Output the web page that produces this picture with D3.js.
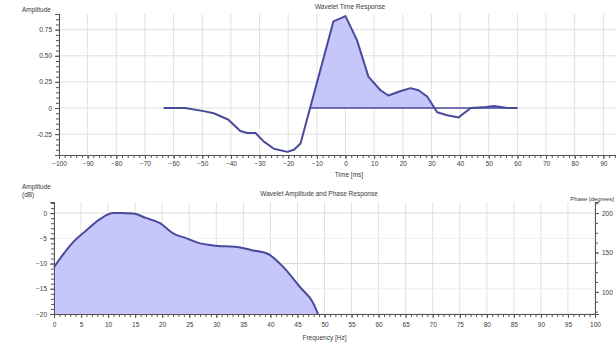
<!DOCTYPE html>
<html>
<head>
<meta charset="utf-8">
<script src="https://cdn.jsdelivr.net/npm/d3@7"></script>
<style>
  html, body { margin: 0; padding: 0; background: #fff; }
  svg { display: block; font-family: "Liberation Sans", Arial, sans-serif; }
  text { fill: #3a3a3a; }
</style>
</head>
<body>
<svg id="chart" width="616" height="346"></svg>
<script>
// Wavelet time response: time (ms) vs amplitude
const timeMs  = [-63.5, -56, -49.5, -46, -41, -36.7, -34.3, -31.4, -28.6, -25, -20.3, -18, -15.7,
                 -4.2, 0, 4, 8, 12.2, 15, 19, 22.7, 25.5, 28.5, 32, 35.5, 39.5, 43.7, 49, 51.8, 56.5, 60];
const timeAmp = [0, 0, -0.03, -0.05, -0.11, -0.22, -0.24, -0.24, -0.32, -0.39, -0.42, -0.40, -0.34,
                 0.83, 0.88, 0.65, 0.30, 0.17, 0.12, 0.16, 0.19, 0.17, 0.11, -0.04, -0.07, -0.09, 0, 0.01, 0.02, 0, 0];

// Wavelet amplitude spectrum: frequency (Hz) vs amplitude (dB)
const freqHz = [0, 3.5, 6, 8.5, 11, 12.2, 14.6, 17.1, 19.6, 22, 24.5, 27, 29.4, 34.4, 36.8, 39.4, 42.4, 45.5, 47.9, 48.8];
const ampDb  = [-10.7, -5.8, -3.4, -1.2, 0, 0, -0.1, -1, -2, -4, -5, -6, -6.4, -6.8, -7.4, -8, -10.7, -14.7, -17.8, -20];

// Tick labels
const timeTicks  = [-100, -90, -80, -70, -60, -50, -40, -30, -20, -10, 0, 10, 20, 30, 40, 50, 60, 70, 80, 90];
const ampTicks   = [-0.25, 0, 0.25, 0.5, 0.75];
const ampTickLabels = ["-0.25", "0", "0.25", "0.50", "0.75"];
const freqTicks  = d3.range(0, 101, 5);
const dbTicks    = [-20, -15, -10, -5, 0];
const phaseTicks = [100, 150, 200];

const LINE = "#4a4a9c";
const FILL = "#c6c6fb";
const AXIS = "#555";
const GRID = "#e0e0e0";

const svg = d3.select("#chart");

// ---------- Upper panel: time response ----------
const xT = d3.scaleLinear().domain([-100, 100]).range([59, 632]);
const yT = d3.scaleLinear().domain([-0.45, 0.9]).range([155, 14]);

const timePanel = svg.append("g");

// grid
timePanel.append("g").selectAll("line").data(timeTicks).join("line")
  .attr("x1", d => xT(d)).attr("x2", d => xT(d))
  .attr("y1", yT.range()[1]).attr("y2", yT.range()[0])
  .attr("stroke", GRID).attr("stroke-width", 1);
timePanel.append("g").selectAll("line").data(ampTicks).join("line")
  .attr("x1", xT.range()[0]).attr("x2", xT.range()[1])
  .attr("y1", d => yT(d)).attr("y2", d => yT(d))
  .attr("stroke", GRID).attr("stroke-width", 1);

// positive lobes filled between curve and zero, clipped above the baseline
const tPts = timeMs.map((t, i) => [t, timeAmp[i]]);
timePanel.append("clipPath").attr("id", "clipPos")
  .append("rect")
  .attr("x", xT.range()[0]).attr("y", yT.range()[1])
  .attr("width", xT.range()[1] - xT.range()[0]).attr("height", yT(0) - yT.range()[1]);

// first zero crossing going into the main lobe
let startT = timeMs[0];
for (let i = 1; i < tPts.length; i++) {
  if (tPts[i - 1][1] < 0 && tPts[i][1] >= 0) {
    const [t0, v0] = tPts[i - 1], [t1, v1] = tPts[i];
    startT = t0 + (0 - v0) * (t1 - t0) / (v1 - v0);
    break;
  }
}
const lobePts = tPts.filter(p => p[0] >= startT - 5);

timePanel.append("path")
  .datum(lobePts)
  .attr("clip-path", "url(#clipPos)")
  .attr("d", d3.area().x(d => xT(d[0])).y0(yT(0)).y1(d => yT(d[1])))
  .attr("fill", FILL);

timePanel.append("line")
  .attr("x1", xT(startT)).attr("x2", xT(timeMs[timeMs.length - 1]))
  .attr("y1", yT(0)).attr("y2", yT(0))
  .attr("stroke", LINE).attr("stroke-width", 1.6);

timePanel.append("path")
  .datum(tPts)
  .attr("d", d3.line().x(d => xT(d[0])).y(d => yT(d[1])))
  .attr("fill", "none").attr("stroke", LINE).attr("stroke-width", 2)
  .attr("stroke-linejoin", "round");

// axes
const xAxisT = timePanel.append("g").attr("transform", `translate(0,${yT.range()[0]})`);
xAxisT.call(d3.axisBottom(xT).tickValues(d3.range(-100, 101, 2)).tickSize(3).tickFormat(""));
xAxisT.call(g => g.append("g").call(d3.axisBottom(xT).tickValues(timeTicks).tickSize(4).tickFormat(d3.format("d"))));
const yAxisT = timePanel.append("g").attr("transform", `translate(${xT.range()[0]},0)`);
yAxisT.call(d3.axisLeft(yT).tickValues(d3.range(-0.45, 0.901, 0.05)).tickSize(3).tickFormat(""));
yAxisT.call(g => g.append("g").call(d3.axisLeft(yT).tickValues(ampTicks).tickSize(4)
  .tickFormat((d, i) => ampTickLabels[i])));

// ---------- Lower panel: amplitude spectrum ----------
const xF = d3.scaleLinear().domain([0, 100]).range([54, 595]);
const yF = d3.scaleLinear().domain([-20, 2.2]).range([314, 202]);
const yP = d3.scaleLinear().domain([72, 214]).range([314, 202]);

const freqPanel = svg.append("g");

freqPanel.append("g").selectAll("line").data(freqTicks).join("line")
  .attr("x1", d => xF(d)).attr("x2", d => xF(d))
  .attr("y1", yF.range()[1]).attr("y2", yF.range()[0])
  .attr("stroke", GRID).attr("stroke-width", 1);
freqPanel.append("g").selectAll("line").data(dbTicks).join("line")
  .attr("x1", xF.range()[0]).attr("x2", xF.range()[1])
  .attr("y1", d => yF(d)).attr("y2", d => yF(d))
  .attr("stroke", (d) => d % 10 === 0 ? "#d8d8d8" : "#eeeeee").attr("stroke-width", 1);

const fPts = freqHz.map((f, i) => [f, ampDb[i]]);
freqPanel.append("path")
  .datum(fPts)
  .attr("d", d3.area().curve(d3.curveMonotoneX)
    .x(d => xF(d[0])).y0(yF(-20)).y1(d => yF(d[1])))
  .attr("fill", FILL);
freqPanel.append("path")
  .datum(fPts)
  .attr("d", d3.line().curve(d3.curveMonotoneX).x(d => xF(d[0])).y(d => yF(d[1])))
  .attr("fill", "none").attr("stroke", LINE).attr("stroke-width", 2);

const xAxisF = freqPanel.append("g").attr("transform", `translate(0,${yF.range()[0]})`);
xAxisF.call(d3.axisBottom(xF).tickValues(d3.range(0, 101, 1)).tickSize(3).tickFormat(""));
xAxisF.call(g => g.append("g").call(d3.axisBottom(xF).tickValues(freqTicks).tickSize(4).tickFormat(d3.format("d"))));
const yAxisF = freqPanel.append("g").attr("transform", `translate(${xF.range()[0]},0)`);
yAxisF.call(d3.axisLeft(yF).tickValues(d3.range(-20, 2.1, 1)).tickSize(3).tickFormat(""));
yAxisF.call(g => g.append("g").call(d3.axisLeft(yF).tickValues(dbTicks).tickSize(4).tickFormat(d3.format("d"))));
const yAxisP = freqPanel.append("g").attr("transform", `translate(${xF.range()[1]},0)`);
yAxisP.call(d3.axisRight(yP).tickValues(d3.range(75, 214, 12.5)).tickSize(3).tickFormat(""));
yAxisP.call(g => g.append("g").call(d3.axisRight(yP).tickValues(phaseTicks).tickSize(4).tickFormat(d3.format("d"))));

// shared axis styling
svg.selectAll(".domain").attr("stroke", AXIS).attr("stroke-width", 1);
svg.selectAll(".tick line").attr("stroke", AXIS);
svg.selectAll(".tick text").attr("font-size", 6.5).attr("fill", "#3a3a3a");
xAxisT.selectAll(".tick text").attr("dy", "0.6em");
xAxisF.selectAll(".tick text").attr("dy", "0.9em");

// titles and axis labels
const label = (x, y, txt, anchor = "middle", size = 6.5) =>
  svg.append("text").attr("x", x).attr("y", y).attr("text-anchor", anchor)
    .attr("font-size", size).text(txt);

label(350, 9, "Wavelet Time Response");
label(22, 12, "Amplitude", "start");
label(349, 177, "Time [ms]");

label(xF(49), 196, "Wavelet Amplitude and Phase Response");
label(22, 189, "Amplitude", "start");
label(22, 197, "(dB)", "start");
label(614, 201, "Phase [degrees]", "end", 6);
label(xF(50), 340, "Frequency [Hz]");
</script>
</body>
</html>
